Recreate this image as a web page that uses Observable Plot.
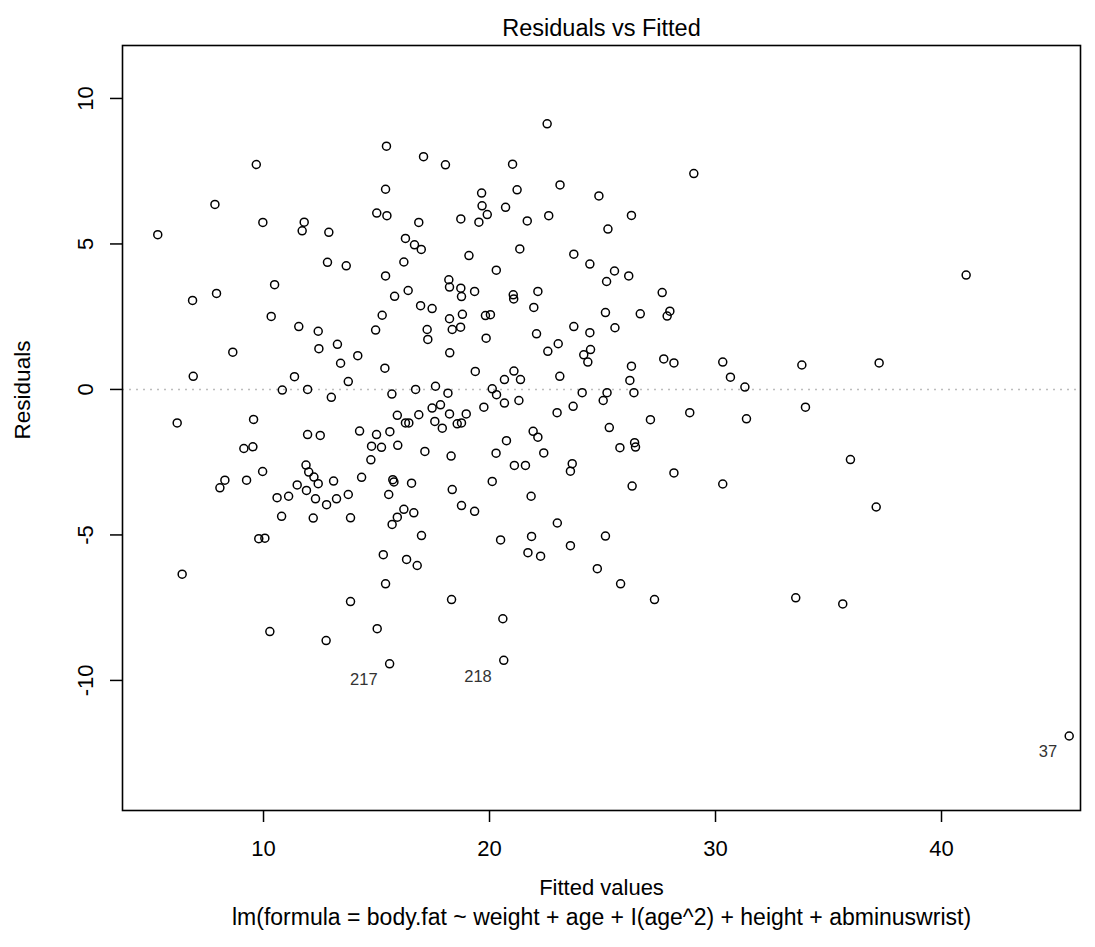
<!DOCTYPE html>
<html><head><meta charset="utf-8">
<script src="https://cdn.jsdelivr.net/npm/d3@7"></script>
<script src="https://cdn.jsdelivr.net/npm/@observablehq/plot@0.6"></script>
<style>
body{margin:0;background:#fff}
svg{display:block}
svg [aria-label$="tick"]{stroke-width:1.5}
</style>
</head><body><div id="chart"></div>
<script>
const fitted = [
 9.68,7.85,9.97,11.8,11.71,5.32,10.49,7.92,6.86,10.34,
 15.44,17.08,18.05,15.4,15.01,15.46,16.87,19.65,19.67,19.9,
 19.53,18.73,12.89,16.28,16.68,16.98,19.09,12.83,13.66,16.21,
 20.3,15.4,18.2,18.23,18.73,18.76,19.34,16.4,15.8,16.95,
 17.46,15.25,18.8,19.82,20.04,18.23,
 22.55,21.02,29.04,21.22,23.12,24.84,20.71,21.67,22.62,26.28,
 25.24,21.34,23.73,24.44,25.53,25.18,26.16,27.64,27.98,27.86,
 21.05,21.07,22.14,21.96,25.13,26.67,
 11.56,8.64,6.89,11.37,10.83,11.95,6.18,9.56,11.95,9.13,
 9.53,11.88,9.96,8.29,8.07,9.25,11.49,11.9,10.6,11.11,
 10.8,12.2,
 12.42,14.96,17.24,17.27,18.35,18.72,12.45,13.27,13.41,14.17,
 19.85,18.24,15.37,19.37,13.75,13.0,15.68,16.73,17.61,18.16,
 20.12,19.75,15.92,16.28,16.43,16.87,17.46,17.83,18.23,18.97,
 17.58,17.91,18.57,18.76,12.51,14.25,15.0,15.59,14.78,15.22,
 15.94,14.75,17.14,18.3,20.29,12.0,12.23,12.42,12.3,13.1,
 12.79,13.23,13.75,13.85,14.34,15.72,15.77,16.55,15.54,18.35,
 18.76,19.34,16.21,16.65,15.92,15.69,16.99,
 22.08,23.73,24.44,25.55,22.58,23.04,24.17,24.47,24.35,27.71,
 28.16,26.28,26.21,26.39,21.08,20.66,21.37,23.11,20.31,20.66,
 21.3,24.1,25.2,25.03,22.99,23.7,28.86,27.12,25.3,21.93,
 22.14,20.75,22.4,25.77,26.42,26.46,21.1,21.59,23.66,23.58,
 28.16,20.12,26.31,21.84,23.0,
 9.79,10.06,6.4,10.28,
 15.3,16.33,16.8,15.4,13.85,18.32,15.03,12.77,15.58,
 20.49,21.86,21.7,22.26,23.58,25.13,24.77,25.8,27.3,20.59,
 20.63,
 41.09,30.32,30.66,31.3,31.37,33.82,37.24,33.98,35.97,30.32,
 37.11,33.55,35.63,45.65
];
const residuals = [
 7.73,6.36,5.74,5.75,5.45,5.32,3.6,3.3,3.06,2.51,
 8.36,8.0,7.72,6.88,6.06,5.97,5.74,6.75,6.31,6.01,
 5.75,5.86,5.4,5.19,4.97,4.81,4.6,4.37,4.25,4.38,
 4.1,3.9,3.77,3.52,3.48,3.19,3.37,3.4,3.2,2.88,
 2.78,2.55,2.58,2.54,2.57,2.43,
 9.13,7.74,7.42,6.86,7.03,6.65,6.26,5.79,5.97,5.98,
 5.51,4.83,4.65,4.31,4.07,3.71,3.9,3.33,2.69,2.52,
 3.25,3.11,3.37,2.82,2.64,2.6,
 2.16,1.28,0.45,0.44,-0.02,0,-1.15,-1.03,-1.55,-2.03,
 -1.97,-2.6,-2.82,-3.12,-3.38,-3.12,-3.28,-3.47,-3.72,-3.67,
 -4.36,-4.42,
 2.0,2.04,2.06,1.72,2.06,2.14,1.4,1.55,0.9,1.16,
 1.76,1.26,0.73,0.62,0.27,-0.27,-0.16,0,0.11,-0.13,
 0.02,-0.61,-0.89,-1.15,-1.15,-0.87,-0.64,-0.53,-0.84,-0.84,
 -1.1,-1.33,-1.18,-1.15,-1.58,-1.43,-1.55,-1.45,-1.95,-1.99,
 -1.92,-2.42,-2.13,-2.29,-2.19,-2.84,-3.01,-3.24,-3.76,-3.15,
 -3.96,-3.76,-3.61,-4.41,-3.02,-3.1,-3.18,-3.22,-3.61,-3.44,
 -3.99,-4.19,-4.12,-4.24,-4.39,-4.64,-5.02,
 1.91,2.16,1.95,2.12,1.31,1.57,1.19,1.37,0.94,1.05,
 0.91,0.8,0.31,-0.11,0.63,0.34,0.34,0.45,-0.18,-0.47,
 -0.38,-0.11,-0.11,-0.38,-0.8,-0.58,-0.8,-1.04,-1.31,-1.44,
 -1.64,-1.76,-2.18,-2.0,-1.83,-1.98,-2.61,-2.61,-2.55,-2.81,
 -2.87,-3.16,-3.32,-3.67,-4.59,
 -5.13,-5.11,-6.35,-8.32,
 -5.68,-5.84,-6.05,-6.68,-7.29,-7.22,-8.22,-8.63,-9.43,
 -5.17,-5.05,-5.61,-5.73,-5.37,-5.04,-6.16,-6.68,-7.22,-7.88,
 -9.31,
 3.93,0.94,0.42,0.08,-1.01,0.84,0.91,-0.61,-2.41,-3.25,
 -4.04,-7.16,-7.37,-11.91
];
const xTicks = [10, 20, 30, 40];
const yTicks = [-10, -5, 0, 5, 10];
const idLabels = ["217", "218", "37"];
const idFitted = [15.58, 20.63, 45.65];
const idResid = [-9.43, -9.31, -11.91];
const titleText = "Residuals vs Fitted";
const xLabel = "Fitted values";
const yLabel = "Residuals";
const subCaption = "lm(formula = body.fat ~ weight + age + I(age^2) + height + abminuswrist)";

const points = fitted.map((f, i) => ({fitted: f, resid: residuals[i]}));
const ids = idLabels.map((l, i) => ({label: l, fitted: idFitted[i], resid: idResid[i]}));

const FONT = "'Liberation Sans', Arial, Helvetica, sans-serif";
const FS = 22;

const chart = Plot.plot({
  width: 1095,
  height: 947,
  marginLeft: 122,
  marginRight: 15,
  marginTop: 45,
  marginBottom: 137,
  style: {fontFamily: FONT, fontSize: FS + "px", color: "#000", background: "#fff", overflow: "visible"},
  x: {domain: [3.76, 46.15], ticks: xTicks, tickSize: 12, tickFormat: () => "", label: null},
  y: {domain: [-14.47, 11.82], ticks: yTicks, tickSize: 12, tickFormat: () => "", label: null},
  marks: [
    Plot.ruleY([0], {stroke: "#bdbdbd", strokeWidth: 1.5, strokeDasharray: "2,5"}),
    Plot.dot(points, {x: "fitted", y: "resid", r: 4, stroke: "#000", strokeWidth: 1.5, fill: "none"}),
    Plot.text(ids, {x: "fitted", y: "resid", text: "label", textAnchor: "end", dx: -12, dy: 16, fontSize: 16.5, fill: "#333"}),
    Plot.frame({stroke: "#000", strokeWidth: 1.6}),
    Plot.text(xTicks, {x: d => d, text: d => String(d), frameAnchor: "bottom", dy: 45, fontSize: FS}),
    Plot.text(yTicks, {y: d => d, text: d => String(d), frameAnchor: "left", textAnchor: "middle", dx: -37, rotate: -90, fontSize: FS}),
    Plot.text([titleText], {text: d => d, frameAnchor: "top", textAnchor: "middle", dy: -26, fontSize: 23.5}),
    Plot.text([xLabel], {text: d => d, frameAnchor: "bottom", textAnchor: "middle", dy: 84, fontSize: 22}),
    Plot.text([subCaption], {text: d => d, frameAnchor: "bottom", textAnchor: "middle", dy: 114, fontSize: 23}),
    Plot.text([yLabel], {text: d => d, frameAnchor: "left", textAnchor: "middle", dx: -100, dy: -38, rotate: -90, fontSize: 22.5})
  ]
});
document.getElementById("chart").appendChild(chart);
</script>
</body></html>
